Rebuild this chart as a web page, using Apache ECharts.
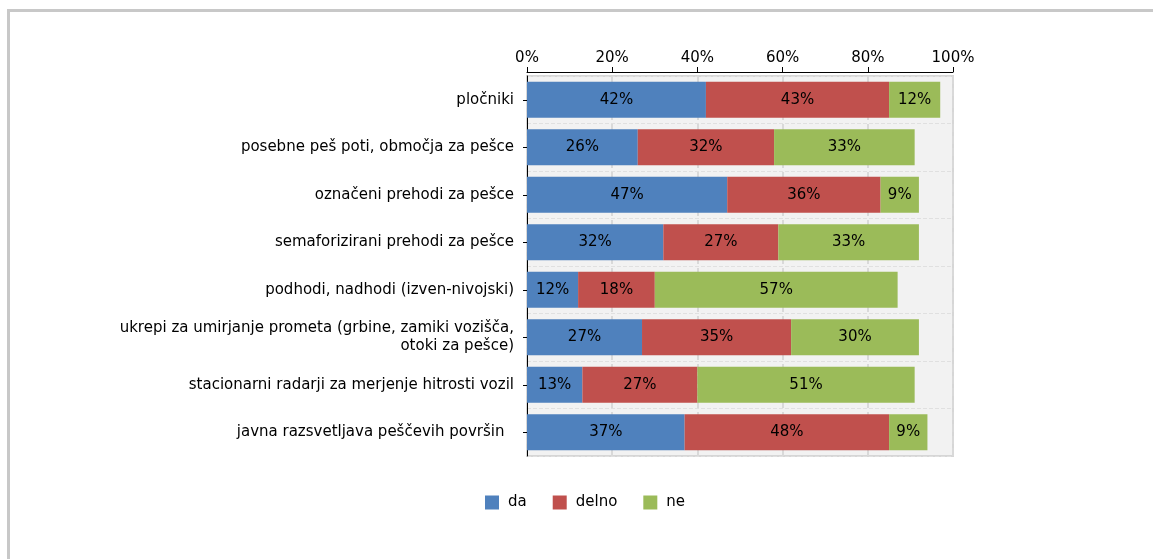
<!DOCTYPE html>
<html><head><meta charset="utf-8">
<script src="https://cdn.jsdelivr.net/npm/echarts@6/dist/echarts.min.js"></script>
<style>html,body{margin:0;padding:0;background:#fff}#c{width:1153px;height:559px}</style>
</head><body><div id="c"></div>
<script>
const categories = [
  "pločniki",
  "posebne peš poti, območja za pešce",
  "označeni prehodi za pešce",
  "semaforizirani prehodi za pešce",
  "podhodi, nadhodi (izven-nivojski)",
  "ukrepi za umirjanje prometa (grbine, zamiki vozišča,\notoki za pešce)",
  "stacionarni radarji za merjenje hitrosti vozil",
  "javna razsvetljava peščevih površin  "
];
const seriesNames = ["da", "delno", "ne"];
const da    = [42, 26, 47, 32, 12, 27, 13, 37];
const delno = [43, 32, 36, 27, 18, 35, 27, 48];
const ne    = [12, 33, 9, 33, 57, 30, 51, 9];
const xTicks = [0, 20, 40, 60, 80, 100];
const colors = ["#4f81bd", "#c0504d", "#9bbb59"];

const font = "DejaVu Sans";
const chart = echarts.init(document.getElementById('c'), null, {renderer: 'canvas'});
const mk = (name, data, i) => ({
  name, type: 'bar', stack: 'a', data, barCategoryGap: '24%',
  itemStyle: {color: colors[i]},
  label: {show: true, position: 'inside', formatter: '{c}%', color: '#000', fontFamily: font, fontSize: 15}
});
chart.setOption({
  animation: false,
  textStyle: {fontFamily: font},
  graphic: [
    {type: 'rect', shape: {x: 7, y: 9, width: 1146, height: 3}, style: {fill: '#c8c8c8'}},
    {type: 'rect', shape: {x: 7, y: 9, width: 3, height: 550}, style: {fill: '#c8c8c8'}}
  ],
  grid: {left: 527, right: 200, top: 76, bottom: 103, show: true, backgroundColor: '#f2f2f2', borderColor: '#d6d6d6', borderWidth: 2},
  legend: {
    data: seriesNames, left: 480, top: 490, itemWidth: 14, itemHeight: 14, itemGap: 26,
    icon: 'rect', textStyle: {fontFamily: font, fontSize: 15, color: '#000', padding: [0, 0, 0, 4]}
  },
  xAxis: {
    type: 'value', position: 'top', offset: 4, min: xTicks[0], max: xTicks[xTicks.length - 1], interval: 20,
    axisLine: {show: true, lineStyle: {color: '#000', width: 1}},
    axisTick: {show: true, length: 5, lineStyle: {color: '#000'}},
    axisLabel: {formatter: '{value}%', color: '#000', fontSize: 15, fontFamily: font, margin: 6},
    splitLine: {show: true, lineStyle: {color: '#d9d9d9', type: 'dashed', width: 2}}
  },
  yAxis: {
    type: 'category', data: categories, inverse: true,
    axisLine: {show: true, onZero: false, lineStyle: {color: '#000'}},
    axisTick: {show: true, alignWithLabel: true, length: 4, lineStyle: {color: '#000'}},
    axisLabel: {color: '#000', fontSize: 15, fontFamily: font, margin: 13, lineHeight: 18, align: 'right'},
    splitLine: {show: true, lineStyle: {color: '#e0e0e0', type: 'dashed'}}
  },
  series: [mk(seriesNames[0], da, 0), mk(seriesNames[1], delno, 1), mk(seriesNames[2], ne, 2)]
});
</script></body></html>
